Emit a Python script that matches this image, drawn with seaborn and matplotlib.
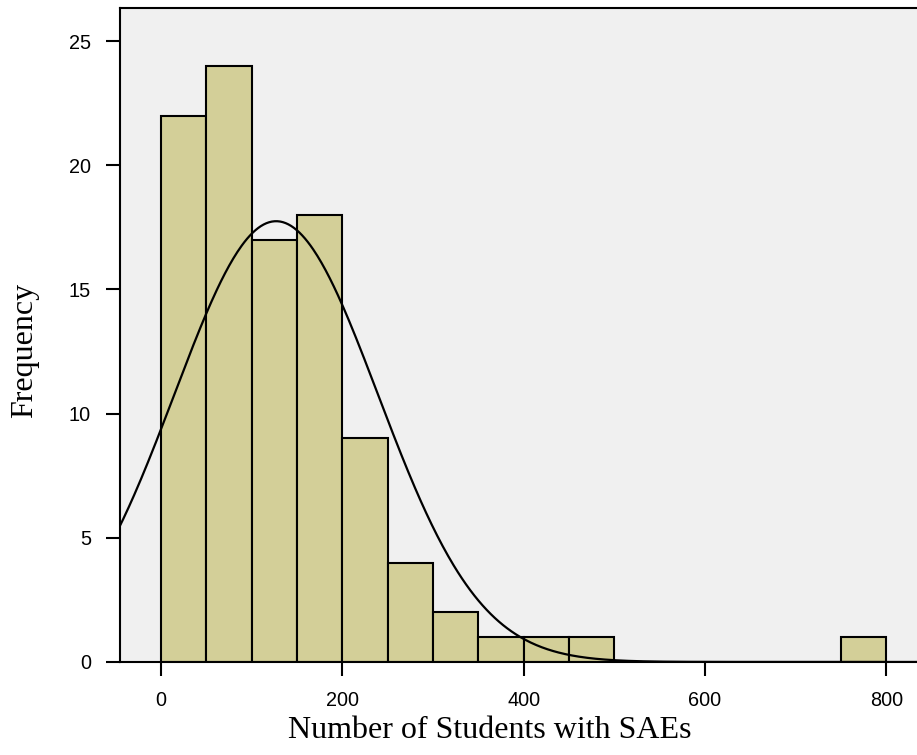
import numpy as np
import pandas as pd
import matplotlib
matplotlib.use("Agg")
import matplotlib.pyplot as plt
import seaborn as sns

# bin edges and counts (width 50)
bin_left = [0, 50, 100, 150, 200, 250, 300, 350, 400, 450, 750]
counts = [22, 24, 17, 18, 9, 4, 2, 1, 1, 1, 1]
bin_width = 50
# normal curve parameters (SPSS style overlay)
curve_mean = 127
curve_sd = 112.4

df = pd.DataFrame({"mid": np.array(bin_left) + bin_width / 2, "count": counts})
n = sum(counts)

sns.set_style("ticks")
fig = plt.figure(figsize=(9.17, 7.55), dpi=100)
ax = fig.add_axes([0.1309, 0.1232, 0.88, 0.8662])
ax.set_facecolor("#F0F0F0")

sns.histplot(data=df, x="mid", weights="count", binwidth=bin_width, binrange=(0, 800),
             ax=ax, color="#D3CF98", alpha=1, edgecolor="black", linewidth=1.5)

xs = np.linspace(-60, 850, 600)
ys = n * bin_width / (curve_sd * np.sqrt(2 * np.pi)) * np.exp(-0.5 * ((xs - curve_mean) / curve_sd) ** 2)
ax.plot(xs, ys, color="black", linewidth=1.6)

ax.set_xlim(-45.2, 845)
ax.set_ylim(0, 26.33)
ax.set_xticks([0, 200, 400, 600, 800])
ax.set_yticks([0, 5, 10, 15, 20, 25])

for s in ["left", "bottom", "top"]:
    ax.spines[s].set_visible(True)
    ax.spines[s].set_linewidth(1.5)
    ax.spines[s].set_color("black")
ax.spines["right"].set_visible(False)

ax.tick_params(axis="both", direction="out", length=10, width=1.5, color="black",
               labelcolor="black", labelsize=14.3, pad=11)
for lab in ax.get_xticklabels() + ax.get_yticklabels():
    lab.set_fontfamily("Liberation Sans")

ax.set_xlabel("Number of Students with SAEs", fontfamily="Liberation Serif", fontsize=23, color="black")
ax.set_ylabel("Frequency", fontfamily="Liberation Serif", fontsize=23, color="black")
ax.xaxis.set_label_coords(0.458, -0.083)
ax.yaxis.set_label_coords(-0.1, 0.477)

fig.savefig("out.png", dpi=100)
